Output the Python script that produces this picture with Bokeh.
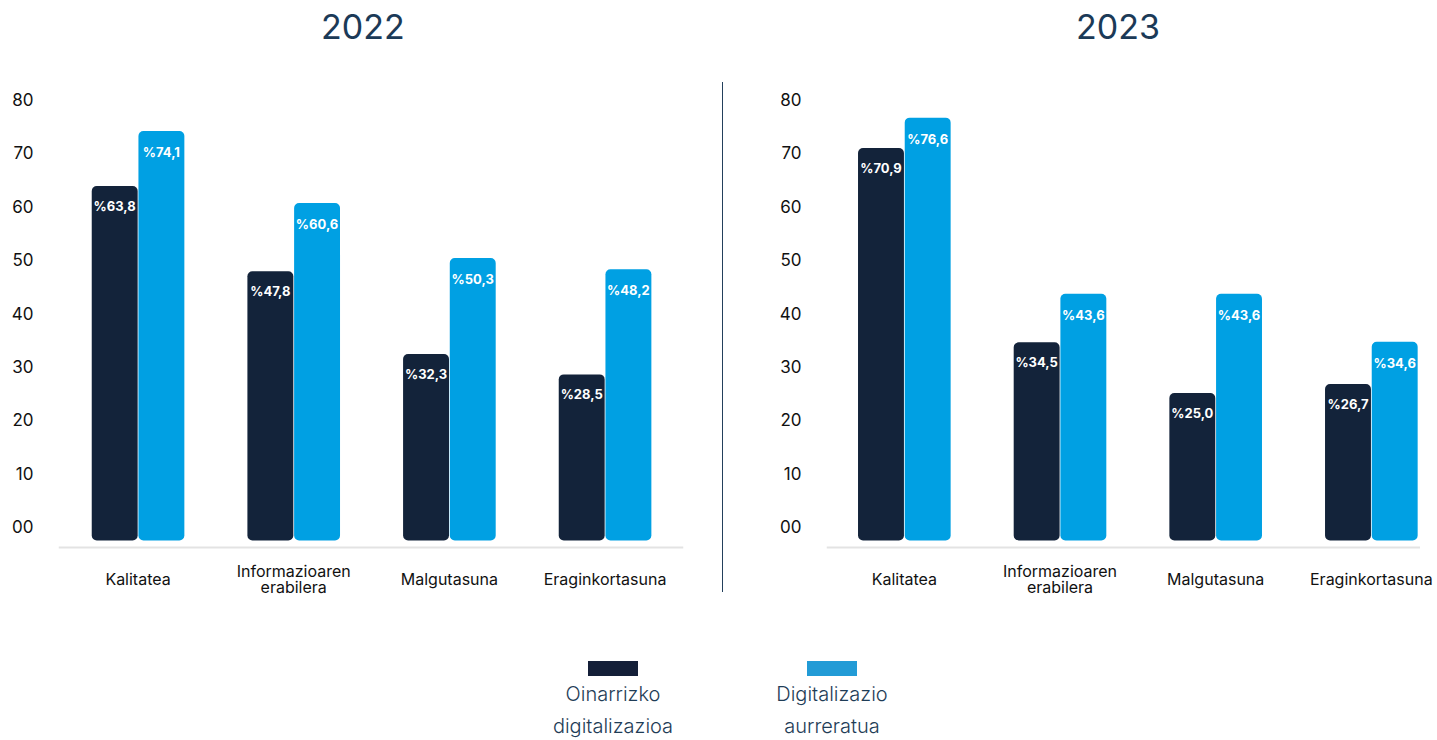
from bokeh.plotting import figure
from bokeh.models import Range1d, FixedTicker, Div, Span
from bokeh.layouts import row, column
from bokeh.embed import file_html
from bokeh.resources import INLINE
from bokeh.core.properties import value

categories = ["Kalitatea", "Informazioaren\nerabilera", "Malgutasuna", "Eraginkortasuna"]
series_names = ["Oinarrizko digitalizazioa", "Digitalizazio aurreratua"]
years = ["2022", "2023"]
basic_2022 = [63.8, 47.8, 32.3, 28.5]
advanced_2022 = [74.1, 60.6, 50.3, 48.2]
basic_2023 = [70.9, 34.5, 25.0, 26.7]
advanced_2023 = [76.6, 43.6, 43.6, 34.6]
y_ticks = [0, 10, 20, 30, 40, 50, 60, 70, 80]
y_tick_labels = ["00", "10", "20", "30", "40", "50", "60", "70", "80"]

DARK = "#13233a"
BLUE = "#00a0e3"
FONT = "Inter"
BAR_BOTTOM = -2.6
BASELINE = -3.93
UNIT = 155.67          # px per category
PX_PER_Y = 5.3375      # px per y unit
LABEL_PX = 16


def fmt(v):
    return "%" + f"{v:.1f}".replace(".", ",")


def make_panel(basic, advanced, width, border_left, border_right, x_start):
    frame_w = width - border_left - border_right
    frame_h = 469
    y_start = -(549 - 526) / PX_PER_Y
    y_end = y_start + frame_h / PX_PER_Y
    p = figure(width=width, height=frame_h + 12, output_backend="svg", toolbar_location=None,
               x_range=Range1d(x_start, x_start + frame_w / UNIT),
               y_range=Range1d(y_start, y_end), x_axis_location=None,
               min_border_left=border_left, min_border_right=border_right,
               min_border_top=12, min_border_bottom=0)
    p.outline_line_color = None
    p.xgrid.visible = False
    p.ygrid.visible = False
    p.background_fill_color = "white"
    p.border_fill_color = "white"

    xs = [i + 0.5 for i in range(len(categories))]
    x_dark = [x - 0.15 for x in xs]
    x_blue = [x + 0.15 for x in xs]
    p.add_layout(Span(location=BASELINE, dimension="width", line_color="#e3e3e3", line_width=2))
    p.vbar(x=x_dark, top=basic, bottom=BAR_BOTTOM, width=0.295, fill_color=DARK,
           line_color=None, border_radius=5)
    p.vbar(x=x_blue, top=advanced, bottom=BAR_BOTTOM, width=0.295, fill_color=BLUE,
           line_color=None, border_radius=5)
    p.text(x=x_dark, y=basic, text=[fmt(v) for v in basic], text_color="white",
           text_font=value(FONT), text_font_style="bold", text_font_size="13px",
           text_align="center", text_baseline="middle", y_offset=20)
    p.text(x=x_blue, y=advanced, text=[fmt(v) for v in advanced], text_color="white",
           text_font=value(FONT), text_font_style="bold", text_font_size="13px",
           text_align="center", text_baseline="middle", y_offset=21)

    p.yaxis.ticker = FixedTicker(ticks=y_ticks)
    p.yaxis.major_label_overrides = {t: l for t, l in zip(y_ticks, y_tick_labels)}
    p.yaxis.axis_line_color = None
    p.yaxis.major_tick_line_color = None
    p.yaxis.minor_tick_line_color = None
    p.yaxis.major_tick_out = 0
    p.yaxis.major_label_standoff = 25
    p.yaxis.major_label_text_font = FONT
    p.yaxis.major_label_text_font_size = "17px"
    p.yaxis.major_label_text_color = "#111111"
    return p


def make_strip(width, border_left, border_right, x_start):
    frame_w = width - border_left - border_right
    s = figure(width=width, height=56, output_backend="svg", toolbar_location=None,
               x_range=Range1d(x_start, x_start + frame_w / UNIT),
               y_range=Range1d(56, 0), x_axis_location=None, y_axis_location=None,
               min_border_left=border_left, min_border_right=border_right,
               min_border_top=0, min_border_bottom=0)
    s.outline_line_color = None
    s.xgrid.visible = False
    s.ygrid.visible = False
    xs = [i + 0.5 for i in range(len(categories))]
    n_lines = [c.count("\n") + 1 for c in categories]
    ys = [27 - n * LABEL_PX / 2 for n in n_lines]
    s.text(x=xs, y=ys, text=categories, text_color="#111111", text_font=value(FONT),
           text_font_size=f"{LABEL_PX}px", text_align="center", text_baseline="top",
           text_line_height=0.8)
    return s


p1 = make_panel(basic_2022, advanced_2022, 714, 50, 39, -0.011)
s1 = make_strip(714, 50, 39, -0.011)
p2 = make_panel(basic_2023, advanced_2023, 697, 103, 0, 0.0)
s2 = make_strip(712, 103, 0, 0.0)

title_style = "font-family:Inter,sans-serif;font-size:34px;line-height:38px;color:#1b3a57;"
t1 = Div(text=f'<div style="{title_style}padding-left:313px;">{years[0]}</div>',
         width=714, height=60, margin=(0, 0, 0, 0))
t_gap = Div(text="", width=1, height=60, margin=(0, 0, 0, 0))
t2 = Div(text=f'<div style="{title_style}padding-left:353px;">{years[1]}</div>',
         width=697, height=60, margin=(0, 0, 0, 0))

sep = Div(text="", width=1, height=510, margin=(14, 0, 0, 0),
          styles={"background-color": "#23405c"})

label_style = ("position:absolute;top:73px;width:200px;text-align:center;font-size:20px;"
               "line-height:32px;color:#1f3d57;font-weight:300;")
legend_html = f"""
<div style="position:relative;width:1412px;height:124px;font-family:Inter,sans-serif;">
  <div style="position:absolute;left:580px;top:56px;width:50px;height:15px;background:#141f38;"></div>
  <div style="{label_style}left:505px;">{series_names[0].replace(' ', '<br>')}</div>
  <div style="position:absolute;left:799px;top:56px;width:50px;height:15px;background:#229bd6;"></div>
  <div style="{label_style}left:724px;">{series_names[1].replace(' ', '<br>')}</div>
</div>
"""
legend = Div(text=legend_html, width=1412, height=124, margin=(0, 0, 0, 0))

layout = column(row(t1, t_gap, t2),
                row(column(p1, s1, spacing=0), sep, column(p2, s2, spacing=0)),
                legend, margin=(8, 0, 0, 8))

open("out.html", "w").write(file_html(layout, INLINE))
